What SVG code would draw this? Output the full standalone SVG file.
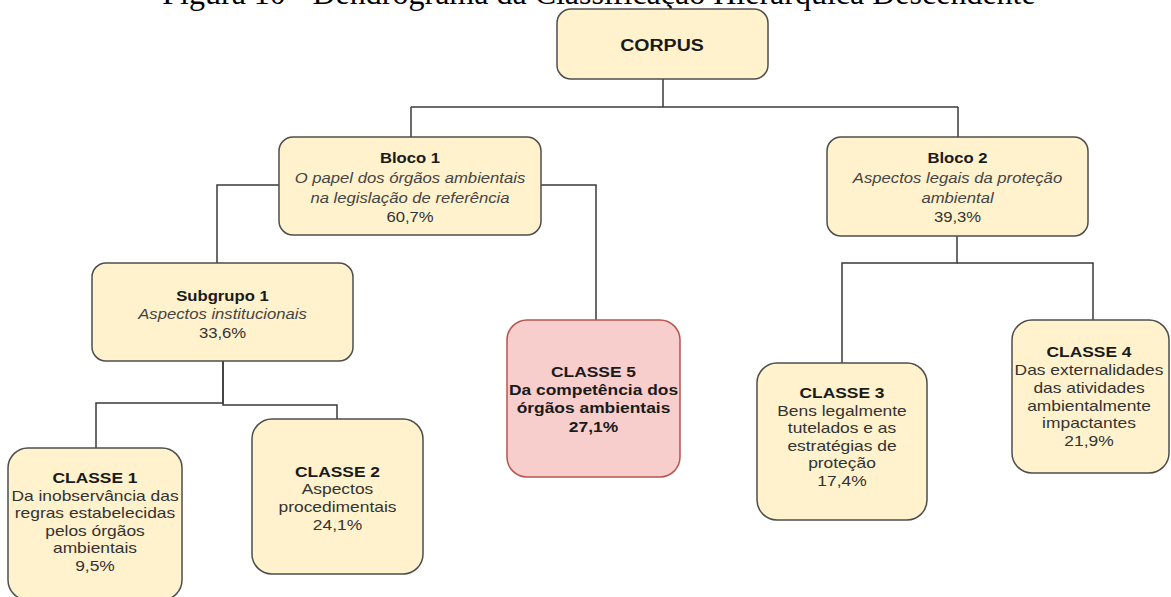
<svg xmlns="http://www.w3.org/2000/svg" width="1171" height="597" viewBox="0 0 1171 597">
<style>
.bg{fill:#ffffff}
.box{fill:#fff2cc;stroke:#4d4d4d;stroke-width:1.5}
.red{fill:#f8cecc;stroke:#b85450;stroke-width:1.5}
.conn{fill:none;stroke:#3a3a3a;stroke-width:1.5}
text{font-family:"Liberation Sans",Arial,sans-serif;text-anchor:middle;fill:#333333}
.t{font-size:14.5px}
.c{font-size:15px}
.b{font-weight:bold;fill:#1a1a1a}
.i{font-style:italic;fill:#444444}
.title{font-family:"Liberation Serif","Times New Roman",serif;font-size:32px;fill:#000000}
</style>
<rect class="bg" x="0" y="0" width="1171" height="597"/>
<text class="title" x="599" y="3.5">Figura 10 - Dendrograma da Classificação Hierárquica Descendente</text>
<g id="connectors">
<path class="conn" d="M663 79 V107"/>
<path class="conn" d="M411 107 H958"/>
<path class="conn" d="M411 107 V137"/>
<path class="conn" d="M958 107 V137"/>
<path class="conn" d="M279 185 H217 V263"/>
<path class="conn" d="M541 185 H596 V320"/>
<path class="conn" d="M223 361 V403 H96 V448"/>
<path class="conn" d="M223 361 V405 H337 V419"/>
<path class="conn" d="M957 236 V263 H842 V363"/>
<path class="conn" d="M957 263 H1093 V320"/>
</g>
<g id="corpus">
<rect class="box" x="557" y="9" width="211" height="70" rx="14"/>
<g transform="translate(662 0) scale(1.15 1)"><text class="b" style="font-size:17px" x="0" y="51">CORPUS</text></g>
</g>
<g id="bloco1">
<rect class="box" x="279" y="137" width="262" height="98" rx="14"/>
<g transform="translate(410 0) scale(1.15 1)">
<text class="t b" x="0" y="163">Bloco 1</text>
<text class="t i" x="0" y="183">O papel dos órgãos ambientais</text>
<text class="t i" x="0" y="203">na legislação de referência</text>
<text class="t" x="0" y="222">60,7%</text>
</g>
</g>
<g id="bloco2">
<rect class="box" x="827" y="137" width="261" height="99" rx="14"/>
<g transform="translate(957.5 0) scale(1.15 1)">
<text class="t b" x="0" y="163">Bloco 2</text>
<text class="t i" x="0" y="183">Aspectos legais da proteção</text>
<text class="t i" x="0" y="203">ambiental</text>
<text class="t" x="0" y="222">39,3%</text>
</g>
</g>
<g id="subgrupo1">
<rect class="box" x="92" y="263" width="261" height="98" rx="14"/>
<g transform="translate(222.5 0) scale(1.15 1)">
<text class="t b" x="0" y="301">Subgrupo 1</text>
<text class="t i" x="0" y="319">Aspectos institucionais</text>
<text class="t" x="0" y="338">33,6%</text>
</g>
</g>
<g id="classe5">
<rect class="red" x="507" y="320" width="173" height="157" rx="20"/>
<g transform="translate(593.5 0) scale(1.16 1)">
<text class="c b" x="0" y="377">CLASSE 5</text>
<text class="c b" x="0" y="395">Da competência dos</text>
<text class="c b" x="0" y="413">órgãos ambientais</text>
<text class="c b" x="0" y="432">27,1%</text>
</g>
</g>
<g id="classe1">
<rect class="box" x="8" y="448" width="174" height="152" rx="20"/>
<g transform="translate(95 0) scale(1.16 1)">
<text class="c b" x="0" y="483">CLASSE 1</text>
<text class="c" x="0" y="501">Da inobservância das</text>
<text class="c" x="0" y="518">regras estabelecidas</text>
<text class="c" x="0" y="536">pelos órgãos</text>
<text class="c" x="0" y="553">ambientais</text>
<text class="c" x="0" y="571">9,5%</text>
</g>
</g>
<g id="classe2">
<rect class="box" x="252" y="419" width="171" height="155" rx="20"/>
<g transform="translate(337.5 0) scale(1.16 1)">
<text class="c b" x="0" y="477">CLASSE 2</text>
<text class="c" x="0" y="494">Aspectos</text>
<text class="c" x="0" y="512">procedimentais</text>
<text class="c" x="0" y="530">24,1%</text>
</g>
</g>
<g id="classe3">
<rect class="box" x="757" y="363" width="170" height="157" rx="20"/>
<g transform="translate(842 0) scale(1.16 1)">
<text class="c b" x="0" y="398">CLASSE 3</text>
<text class="c" x="0" y="416">Bens legalmente</text>
<text class="c" x="0" y="433">tutelados e as</text>
<text class="c" x="0" y="451">estratégias de</text>
<text class="c" x="0" y="468">proteção</text>
<text class="c" x="0" y="486">17,4%</text>
</g>
</g>
<g id="classe4">
<rect class="box" x="1012" y="320" width="157" height="153" rx="20"/>
<g transform="translate(1089 0) scale(1.16 1)">
<text class="c b" x="0" y="357">CLASSE 4</text>
<text class="c" x="0" y="375">Das externalidades</text>
<text class="c" x="0" y="393">das atividades</text>
<text class="c" x="0" y="411">ambientalmente</text>
<text class="c" x="0" y="428">impactantes</text>
<text class="c" x="0" y="446">21,9%</text>
</g>
</g>
</svg>
